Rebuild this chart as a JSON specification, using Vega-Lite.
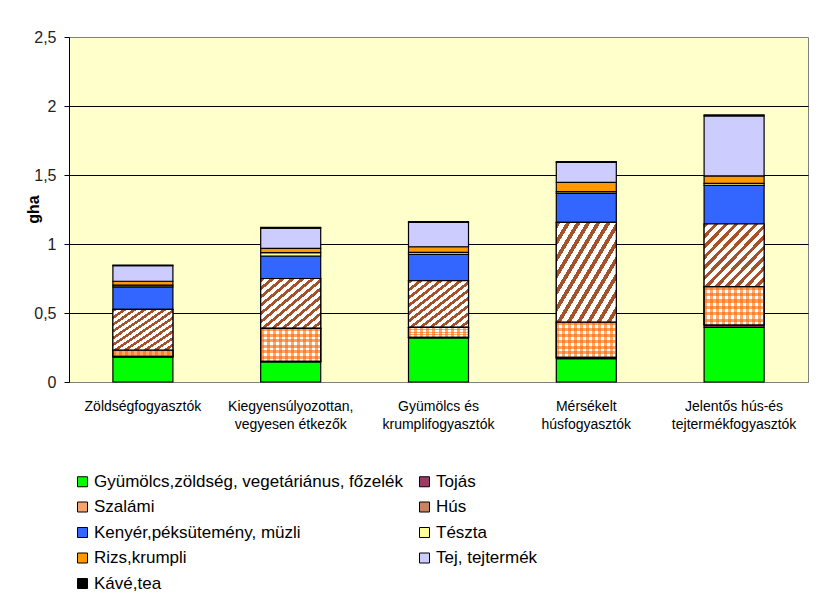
{
  "$schema": "https://vega.github.io/schema/vega-lite/v6.json",
  "width": 739,
  "height": 345,
  "autosize": {"type": "none"},
  "padding": {"left": 69, "top": 37, "right": 28, "bottom": 226},
  "background": "white",
  "config": {
    "font": "Liberation Sans",
    "view": {"fill": "#ffffcc", "stroke": "#808080", "strokeWidth": 1}
  },
  "data": {
    "values": [
      {"group": "Zöldségfogyasztók", "cat": "Gyümölcs,zöldség, vegetáriánus, főzelék", "v": 0.18},
      {"group": "Zöldségfogyasztók", "cat": "Tojás", "v": 0.005},
      {"group": "Zöldségfogyasztók", "cat": "Szalámi", "v": 0.045},
      {"group": "Zöldségfogyasztók", "cat": "Hús", "v": 0.296},
      {"group": "Zöldségfogyasztók", "cat": "Kenyér,péksütemény, müzli", "v": 0.164},
      {"group": "Zöldségfogyasztók", "cat": "Tészta", "v": 0.012},
      {"group": "Zöldségfogyasztók", "cat": "Rizs,krumpli", "v": 0.028},
      {"group": "Zöldségfogyasztók", "cat": "Tej, tejtermék", "v": 0.113},
      {"group": "Zöldségfogyasztók", "cat": "Kávé,tea", "v": 0.005},

      {"group": "Kiegyensúlyozottan,|vegyesen étkezők", "cat": "Gyümölcs,zöldség, vegetáriánus, főzelék", "v": 0.145},
      {"group": "Kiegyensúlyozottan,|vegyesen étkezők", "cat": "Tojás", "v": 0.005},
      {"group": "Kiegyensúlyozottan,|vegyesen étkezők", "cat": "Szalámi", "v": 0.239},
      {"group": "Kiegyensúlyozottan,|vegyesen étkezők", "cat": "Hús", "v": 0.361},
      {"group": "Kiegyensúlyozottan,|vegyesen étkezők", "cat": "Kenyér,péksütemény, müzli", "v": 0.163},
      {"group": "Kiegyensúlyozottan,|vegyesen étkezők", "cat": "Tészta", "v": 0.024},
      {"group": "Kiegyensúlyozottan,|vegyesen étkezők", "cat": "Rizs,krumpli", "v": 0.032},
      {"group": "Kiegyensúlyozottan,|vegyesen étkezők", "cat": "Tej, tejtermék", "v": 0.146},
      {"group": "Kiegyensúlyozottan,|vegyesen étkezők", "cat": "Kávé,tea", "v": 0.006},

      {"group": "Gyümölcs és|krumplifogyasztók", "cat": "Gyümölcs,zöldség, vegetáriánus, főzelék", "v": 0.32},
      {"group": "Gyümölcs és|krumplifogyasztók", "cat": "Tojás", "v": 0.004},
      {"group": "Gyümölcs és|krumplifogyasztók", "cat": "Szalámi", "v": 0.072},
      {"group": "Gyümölcs és|krumplifogyasztók", "cat": "Hús", "v": 0.338},
      {"group": "Gyümölcs és|krumplifogyasztók", "cat": "Kenyér,péksütemény, müzli", "v": 0.191},
      {"group": "Gyümölcs és|krumplifogyasztók", "cat": "Tészta", "v": 0.015},
      {"group": "Gyümölcs és|krumplifogyasztók", "cat": "Rizs,krumpli", "v": 0.04},
      {"group": "Gyümölcs és|krumplifogyasztók", "cat": "Tej, tejtermék", "v": 0.176},
      {"group": "Gyümölcs és|krumplifogyasztók", "cat": "Kávé,tea", "v": 0.006},

      {"group": "Mérsékelt|húsfogyasztók", "cat": "Gyümölcs,zöldség, vegetáriánus, főzelék", "v": 0.17},
      {"group": "Mérsékelt|húsfogyasztók", "cat": "Tojás", "v": 0.009},
      {"group": "Mérsékelt|húsfogyasztók", "cat": "Szalámi", "v": 0.254},
      {"group": "Mérsékelt|húsfogyasztók", "cat": "Hús", "v": 0.724},
      {"group": "Mérsékelt|húsfogyasztók", "cat": "Kenyér,péksütemény, müzli", "v": 0.21},
      {"group": "Mérsékelt|húsfogyasztók", "cat": "Tészta", "v": 0.012},
      {"group": "Mérsékelt|húsfogyasztók", "cat": "Rizs,krumpli", "v": 0.068},
      {"group": "Mérsékelt|húsfogyasztók", "cat": "Tej, tejtermék", "v": 0.144},
      {"group": "Mérsékelt|húsfogyasztók", "cat": "Kávé,tea", "v": 0.006},

      {"group": "Jelentős hús-és|tejtermékfogyasztók", "cat": "Gyümölcs,zöldség, vegetáriánus, főzelék", "v": 0.396},
      {"group": "Jelentős hús-és|tejtermékfogyasztók", "cat": "Tojás", "v": 0.017},
      {"group": "Jelentős hús-és|tejtermékfogyasztók", "cat": "Szalámi", "v": 0.278},
      {"group": "Jelentős hús-és|tejtermékfogyasztók", "cat": "Hús", "v": 0.454},
      {"group": "Jelentős hús-és|tejtermékfogyasztók", "cat": "Kenyér,péksütemény, müzli", "v": 0.28},
      {"group": "Jelentős hús-és|tejtermékfogyasztók", "cat": "Tészta", "v": 0.015},
      {"group": "Jelentős hús-és|tejtermékfogyasztók", "cat": "Rizs,krumpli", "v": 0.053},
      {"group": "Jelentős hús-és|tejtermékfogyasztók", "cat": "Tej, tejtermék", "v": 0.436},
      {"group": "Jelentős hús-és|tejtermékfogyasztók", "cat": "Kávé,tea", "v": 0.006}
    ]
  },
  "transform": [
    {"calculate": "indexof(['Gyümölcs,zöldség, vegetáriánus, főzelék','Tojás','Szalámi','Hús','Kenyér,péksütemény, müzli','Tészta','Rizs,krumpli','Tej, tejtermék','Kávé,tea'], datum.cat)", "as": "ord"},
    {"stack": "v", "groupby": ["group"], "sort": [{"field": "ord", "order": "ascending"}], "as": ["v0", "v1"]}
  ],
  "encoding": {
    "x": {
      "field": "group", "type": "nominal", "sort": null, "title": null,
      "scale": {"paddingInner": 0.594, "paddingOuter": 0.297},
      "axis": {
        "labelExpr": "split(datum.label, '|')",
        "labelAngle": 0, "labelFontSize": 14, "labelColor": "black",
        "labelLineHeight": 18, "labelPadding": 17, "ticks": false,
        "domainColor": "#808080", "labelLimit": 300
      }
    },
    "y": {
      "field": "v1", "type": "quantitative", "title": "gha",
      "scale": {"domain": [0, 2.5], "nice": false},
      "axis": {
        "values": [0, 0.5, 1, 1.5, 2, 2.5],
        "labelExpr": "replace(format(datum.value, '~g'), '.', ',')",
        "labelFontSize": 16, "labelColor": "#222222", "labelPadding": 8,
        "tickSize": 5, "tickColor": "black", "domainColor": "black",
        "gridColor": {"condition": {"test": "datum.value === 0 || datum.value === 2.5", "value": null}, "value": "black"},
        "gridOpacity": 1, "grid": true,
        "titleFontSize": 16, "titleFontWeight": "bold", "titleColor": "black",
        "titleAngle": -90, "titleX": -36, "titleY": 172, "titleAlign": "center", "titleBaseline": "middle"
      }
    },
    "y2": {"field": "v0"}
  },
  "layer": [
    {
      "mark": {"type": "bar", "stroke": "black", "strokeWidth": 1.2},
      "encoding": {
        "color": {
          "field": "cat", "type": "nominal", "title": null,
          "scale": {
            "domain": ["Gyümölcs,zöldség, vegetáriánus, főzelék", "Tojás", "Szalámi", "Hús", "Kenyér,péksütemény, müzli", "Tészta", "Rizs,krumpli", "Tej, tejtermék", "Kávé,tea"],
            "range": ["#00ff00", "#9c3c64", "#f7a36b", "#c8845e", "#3366ff", "#ffff99", "#ff9900", "#ccccff", "#000000"]
          },
          "legend": {
            "orient": "none", "legendX": 5, "legendY": 436, "columns": 2, "direction": "horizontal",
            "columnPadding": 13, "rowPadding": 7.5, "padding": 0,
            "symbolType": "square", "symbolSize": 100, "symbolStrokeColor": "black", "symbolStrokeWidth": 1,
            "labelFontSize": 17, "labelColor": "black", "labelLimit": 500, "labelOffset": 3
          }
        }
      }
    },
    {
      "transform": [{"filter": "datum.cat === 'Hús'"}],
      "mark": {
        "type": "bar", "stroke": "black", "strokeWidth": 1.2,
        "fill": {
          "gradient": "linear", "x1": 0, "y1": 0, "x2": 1, "y2": 1,
          "stops": [
            {"offset": 0, "color": "#a5522a"}, {"offset": 0.0375, "color": "#a5522a"}, {"offset": 0.0375, "color": "#ffffff"}, {"offset": 0.0833, "color": "#ffffff"},
            {"offset": 0.0833, "color": "#a5522a"}, {"offset": 0.1208, "color": "#a5522a"}, {"offset": 0.1208, "color": "#ffffff"}, {"offset": 0.1667, "color": "#ffffff"},
            {"offset": 0.1667, "color": "#a5522a"}, {"offset": 0.2042, "color": "#a5522a"}, {"offset": 0.2042, "color": "#ffffff"}, {"offset": 0.25, "color": "#ffffff"},
            {"offset": 0.25, "color": "#a5522a"}, {"offset": 0.2875, "color": "#a5522a"}, {"offset": 0.2875, "color": "#ffffff"}, {"offset": 0.3333, "color": "#ffffff"},
            {"offset": 0.3333, "color": "#a5522a"}, {"offset": 0.3708, "color": "#a5522a"}, {"offset": 0.3708, "color": "#ffffff"}, {"offset": 0.4167, "color": "#ffffff"},
            {"offset": 0.4167, "color": "#a5522a"}, {"offset": 0.4542, "color": "#a5522a"}, {"offset": 0.4542, "color": "#ffffff"}, {"offset": 0.5, "color": "#ffffff"},
            {"offset": 0.5, "color": "#a5522a"}, {"offset": 0.5375, "color": "#a5522a"}, {"offset": 0.5375, "color": "#ffffff"}, {"offset": 0.5833, "color": "#ffffff"},
            {"offset": 0.5833, "color": "#a5522a"}, {"offset": 0.6208, "color": "#a5522a"}, {"offset": 0.6208, "color": "#ffffff"}, {"offset": 0.6667, "color": "#ffffff"},
            {"offset": 0.6667, "color": "#a5522a"}, {"offset": 0.7042, "color": "#a5522a"}, {"offset": 0.7042, "color": "#ffffff"}, {"offset": 0.75, "color": "#ffffff"},
            {"offset": 0.75, "color": "#a5522a"}, {"offset": 0.7875, "color": "#a5522a"}, {"offset": 0.7875, "color": "#ffffff"}, {"offset": 0.8333, "color": "#ffffff"},
            {"offset": 0.8333, "color": "#a5522a"}, {"offset": 0.8708, "color": "#a5522a"}, {"offset": 0.8708, "color": "#ffffff"}, {"offset": 0.9167, "color": "#ffffff"},
            {"offset": 0.9167, "color": "#a5522a"}, {"offset": 0.9542, "color": "#a5522a"}, {"offset": 0.9542, "color": "#ffffff"}, {"offset": 1, "color": "#ffffff"}
          ]
        }
      }
    },
    {
      "transform": [{"filter": "datum.cat === 'Szalámi'"}],
      "mark": {
        "type": "bar", "stroke": "black", "strokeWidth": 1.2,
        "fill": {
          "gradient": "linear", "x1": 0, "y1": 0, "x2": 1, "y2": 0,
          "stops": [
            {"offset": 0, "color": "#ffa86c"}, {"offset": 0.05, "color": "#ffa86c"}, {"offset": 0.05, "color": "#ffffff"}, {"offset": 0.1, "color": "#ffffff"},
            {"offset": 0.1, "color": "#ffa86c"}, {"offset": 0.15, "color": "#ffa86c"}, {"offset": 0.15, "color": "#ffffff"}, {"offset": 0.2, "color": "#ffffff"},
            {"offset": 0.2, "color": "#ffa86c"}, {"offset": 0.25, "color": "#ffa86c"}, {"offset": 0.25, "color": "#ffffff"}, {"offset": 0.3, "color": "#ffffff"},
            {"offset": 0.3, "color": "#ffa86c"}, {"offset": 0.35, "color": "#ffa86c"}, {"offset": 0.35, "color": "#ffffff"}, {"offset": 0.4, "color": "#ffffff"},
            {"offset": 0.4, "color": "#ffa86c"}, {"offset": 0.45, "color": "#ffa86c"}, {"offset": 0.45, "color": "#ffffff"}, {"offset": 0.5, "color": "#ffffff"},
            {"offset": 0.5, "color": "#ffa86c"}, {"offset": 0.55, "color": "#ffa86c"}, {"offset": 0.55, "color": "#ffffff"}, {"offset": 0.6, "color": "#ffffff"},
            {"offset": 0.6, "color": "#ffa86c"}, {"offset": 0.65, "color": "#ffa86c"}, {"offset": 0.65, "color": "#ffffff"}, {"offset": 0.7, "color": "#ffffff"},
            {"offset": 0.7, "color": "#ffa86c"}, {"offset": 0.75, "color": "#ffa86c"}, {"offset": 0.75, "color": "#ffffff"}, {"offset": 0.8, "color": "#ffffff"},
            {"offset": 0.8, "color": "#ffa86c"}, {"offset": 0.85, "color": "#ffa86c"}, {"offset": 0.85, "color": "#ffffff"}, {"offset": 0.9, "color": "#ffffff"},
            {"offset": 0.9, "color": "#ffa86c"}, {"offset": 0.95, "color": "#ffa86c"}, {"offset": 0.95, "color": "#ffffff"}, {"offset": 1, "color": "#ffffff"}
          ]
        }
      }
    },
    {
      "transform": [{"filter": "datum.cat === 'Szalámi'"}],
      "mark": {
        "type": "bar", "stroke": "black", "strokeWidth": 1.2,
        "fill": {
          "gradient": "linear", "x1": 0, "y1": 0, "x2": 0, "y2": 1,
          "stops": [
            {"offset": 0, "color": "rgba(255,102,0,0.6)"}, {"offset": 0.0833, "color": "rgba(255,102,0,0.6)"}, {"offset": 0.0833, "color": "rgba(255,102,0,0)"}, {"offset": 0.1667, "color": "rgba(255,102,0,0)"},
            {"offset": 0.1667, "color": "rgba(255,102,0,0.6)"}, {"offset": 0.25, "color": "rgba(255,102,0,0.6)"}, {"offset": 0.25, "color": "rgba(255,102,0,0)"}, {"offset": 0.3333, "color": "rgba(255,102,0,0)"},
            {"offset": 0.3333, "color": "rgba(255,102,0,0.6)"}, {"offset": 0.4167, "color": "rgba(255,102,0,0.6)"}, {"offset": 0.4167, "color": "rgba(255,102,0,0)"}, {"offset": 0.5, "color": "rgba(255,102,0,0)"},
            {"offset": 0.5, "color": "rgba(255,102,0,0.6)"}, {"offset": 0.5833, "color": "rgba(255,102,0,0.6)"}, {"offset": 0.5833, "color": "rgba(255,102,0,0)"}, {"offset": 0.6667, "color": "rgba(255,102,0,0)"},
            {"offset": 0.6667, "color": "rgba(255,102,0,0.6)"}, {"offset": 0.75, "color": "rgba(255,102,0,0.6)"}, {"offset": 0.75, "color": "rgba(255,102,0,0)"}, {"offset": 0.8333, "color": "rgba(255,102,0,0)"},
            {"offset": 0.8333, "color": "rgba(255,102,0,0.6)"}, {"offset": 0.9167, "color": "rgba(255,102,0,0.6)"}, {"offset": 0.9167, "color": "rgba(255,102,0,0)"}, {"offset": 1, "color": "rgba(255,102,0,0)"}
          ]
        }
      }
    }
  ]
}
